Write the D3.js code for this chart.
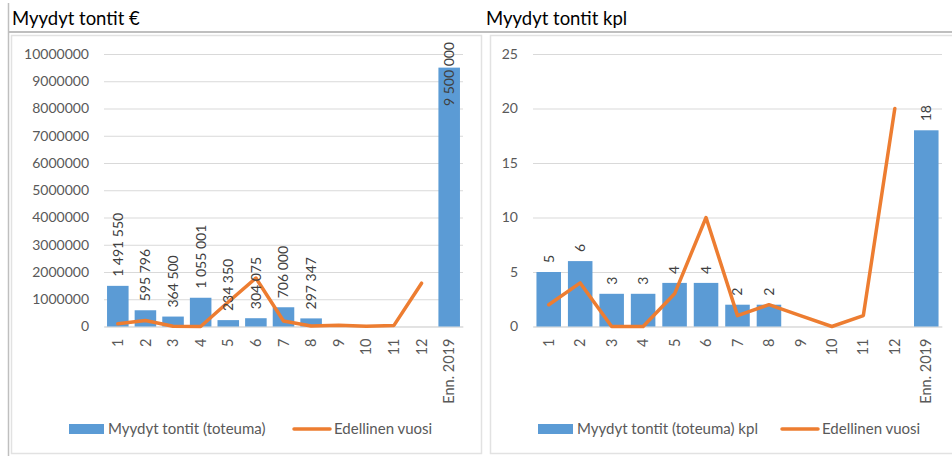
<!DOCTYPE html>
<html>
<head>
    <meta charset="utf-8">
    <title>Myydyt tontit</title>
    <style type="text/css">
    body { margin: 0; background: #fff; }
    svg { display: block; font-family: Lato, "Open Sans", sans-serif; }
    </style>
</head>
<body>

    <script src="https://d3js.org/d3.v7.min.js"></script>
    <script>
      var months = ["1", "2", "3", "4", "5", "6", "7", "8", "9", "10", "11", "12", "Enn. 2019"];

      var euroSold = [1491550, 595796, 364500, 1055001, 234350, 304075, 706000, 297347, null, null, null, null, 9500000];
      var euroPrev = [100000, 220000, 10000, 0, 900000, 1780000, 200000, 20000, 50000, 10000, 40000, 1590000, null];
      var euroTicks = [0, 1000000, 2000000, 3000000, 4000000, 5000000, 6000000, 7000000, 8000000, 9000000, 10000000];

      var kplSold = [5, 6, 3, 3, 4, 4, 2, 2, null, null, null, null, 18];
      var kplPrev = [2, 4, 0, 0, 3, 10, 1, 2, 1, 0, 1, 20, null];
      var kplTicks = [0, 5, 10, 15, 20, 25];

      var blue = "#5b9bd5", orange = "#ed7d31";
      var spaced = function(v){ return d3.format(",")(v).replace(/,/g, " "); };

      var svg = d3.select("body")
          .append("svg")
          .attr("width", 952)
          .attr("height", 456);

      // frames
      svg.append("line").attr("x1", 8.5).attr("x2", 8.5).attr("y1", 3).attr("y2", 456)
          .attr("stroke", "#bfbfbf").attr("stroke-width", 1.5);
      svg.append("line").attr("x1", 9).attr("x2", 952).attr("y1", 32).attr("y2", 32)
          .attr("stroke", "#bfbfbf").attr("stroke-width", 2);
      svg.append("rect").attr("x", 11.5).attr("y", 35.5).attr("width", 470).attr("height", 418)
          .attr("fill", "none").attr("stroke", "#e2e2e2").attr("stroke-width", 1.5);
      svg.append("rect").attr("x", 490.5).attr("y", 35.5).attr("width", 470).attr("height", 418)
          .attr("fill", "none").attr("stroke", "#e2e2e2").attr("stroke-width", 1.5);

      function drawChart(opt) {
        var g = svg.append("g");

        g.append("text")
            .attr("x", opt.titleX)
            .attr("y", 25)
            .attr("font-size", "18.5px")
            .attr("fill", "#000")
            .text(opt.title);

        var x = d3.scaleBand()
            .domain(months)
            .range(opt.xRange)
            .paddingInner(0.22)
            .paddingOuter(0.11);

        var y = d3.scaleLinear()
            .domain([0, opt.ticks[opt.ticks.length - 1]])
            .range([326.5, 54]);

        // y axis with gridlines
        var yAxis = g.append("g")
            .attr("transform", "translate(" + opt.xRange[0] + ",0)")
            .call(d3.axisLeft(y)
                .tickValues(opt.ticks)
                .tickFormat(d3.format("d"))
                .tickSizeInner(-(opt.xRange[1] - opt.xRange[0]))
                .tickSizeOuter(0)
                .tickPadding(15));
        yAxis.select(".domain").remove();
        yAxis.selectAll("line").attr("stroke", "#d9d9d9");
        yAxis.selectAll("text")
            .attr("fill", "#595959")
            .attr("font-size", "14px")
            .attr("font-family", "Lato, sans-serif");

        // x axis
        var xAxis = g.append("g")
            .attr("transform", "translate(0," + y(0) + ")")
            .call(d3.axisBottom(x).tickSize(0).tickSizeOuter(0));
        xAxis.select(".domain").attr("stroke", "#d9d9d9");
        xAxis.selectAll("text")
            .attr("fill", "#595959")
            .attr("font-size", "14.5px")
            .attr("font-family", "Lato, sans-serif")
            .attr("text-anchor", "end")
            .attr("x", -12)
            .attr("y", 0)
            .attr("dy", "0.35em")
            .attr("transform", "rotate(-90)");

        var rows = months.map(function(m, i){ return {m: m, v: opt.sold[i], p: opt.prev[i]}; });
        var barRows = rows.filter(function(d){ return d.v != null; });

        g.selectAll(".bar")
            .data(barRows)
            .enter()
            .append("rect")
            .attr("class", "bar")
            .attr("x", function(d){ return x(d.m); })
            .attr("y", function(d){ return y(d.v); })
            .attr("width", x.bandwidth())
            .attr("height", function(d){ return y(0) - y(d.v); })
            .attr("fill", blue);

        var line = d3.line()
            .defined(function(d){ return d.p != null; })
            .x(function(d){ return x(d.m) + x.bandwidth() / 2; })
            .y(function(d){ return y(d.p); });

        g.append("path")
            .datum(rows)
            .attr("d", line)
            .attr("fill", "none")
            .attr("stroke", orange)
            .attr("stroke-width", 3.5)
            .attr("stroke-linejoin", "round")
            .attr("stroke-linecap", "round");

        // data labels, rotated, kept inside the plot area
        g.selectAll(".lbl")
            .data(barRows)
            .enter()
            .append("text")
            .attr("class", "lbl")
            .attr("fill", "#404040")
            .attr("font-size", "14px")
            .attr("text-anchor", "start")
            .attr("dy", "0.35em")
            .text(function(d){ return spaced(d.v); })
            .each(function(d){
              var len = this.getComputedTextLength();
              var base = y(d.v) - 9;
              if (base - len < 42) base = 42 + len;
              d3.select(this).attr("transform",
                "translate(" + (x(d.m) + x.bandwidth() / 2) + "," + base + ") rotate(-90)");
            });

        // legend
        var lg = g.append("g").attr("transform", "translate(0,429)");
        lg.append("rect")
            .attr("x", opt.legX[0]).attr("y", -5)
            .attr("width", 35).attr("height", 10)
            .attr("fill", blue);
        lg.append("text")
            .attr("x", opt.legX[0] + 39).attr("y", 0).attr("dy", "0.35em")
            .attr("font-size", "15px").attr("fill", "#595959")
            .text(opt.legend);
        lg.append("line")
            .attr("x1", opt.legX[1]).attr("x2", opt.legX[1] + 36)
            .attr("y1", 0).attr("y2", 0)
            .attr("stroke", orange).attr("stroke-width", 3.5)
            .attr("stroke-linecap", "round");
        lg.append("text")
            .attr("x", opt.legX[1] + 40).attr("y", 0).attr("dy", "0.35em")
            .attr("font-size", "15px").attr("fill", "#595959")
            .text("Edellinen vuosi");
      }

      drawChart({
        title: "Myydyt tontit €",
        titleX: 12,
        xRange: [104, 463],
        ticks: euroTicks,
        sold: euroSold,
        prev: euroPrev,
        legend: "Myydyt tontit (toteuma)",
        legX: [69, 294]
      });

      drawChart({
        title: "Myydyt tontit kpl",
        titleX: 486,
        xRange: [533, 942],
        ticks: kplTicks,
        sold: kplSold,
        prev: kplPrev,
        legend: "Myydyt tontit (toteuma) kpl",
        legX: [538, 782]
      });
    </script>
</body>
</html>
